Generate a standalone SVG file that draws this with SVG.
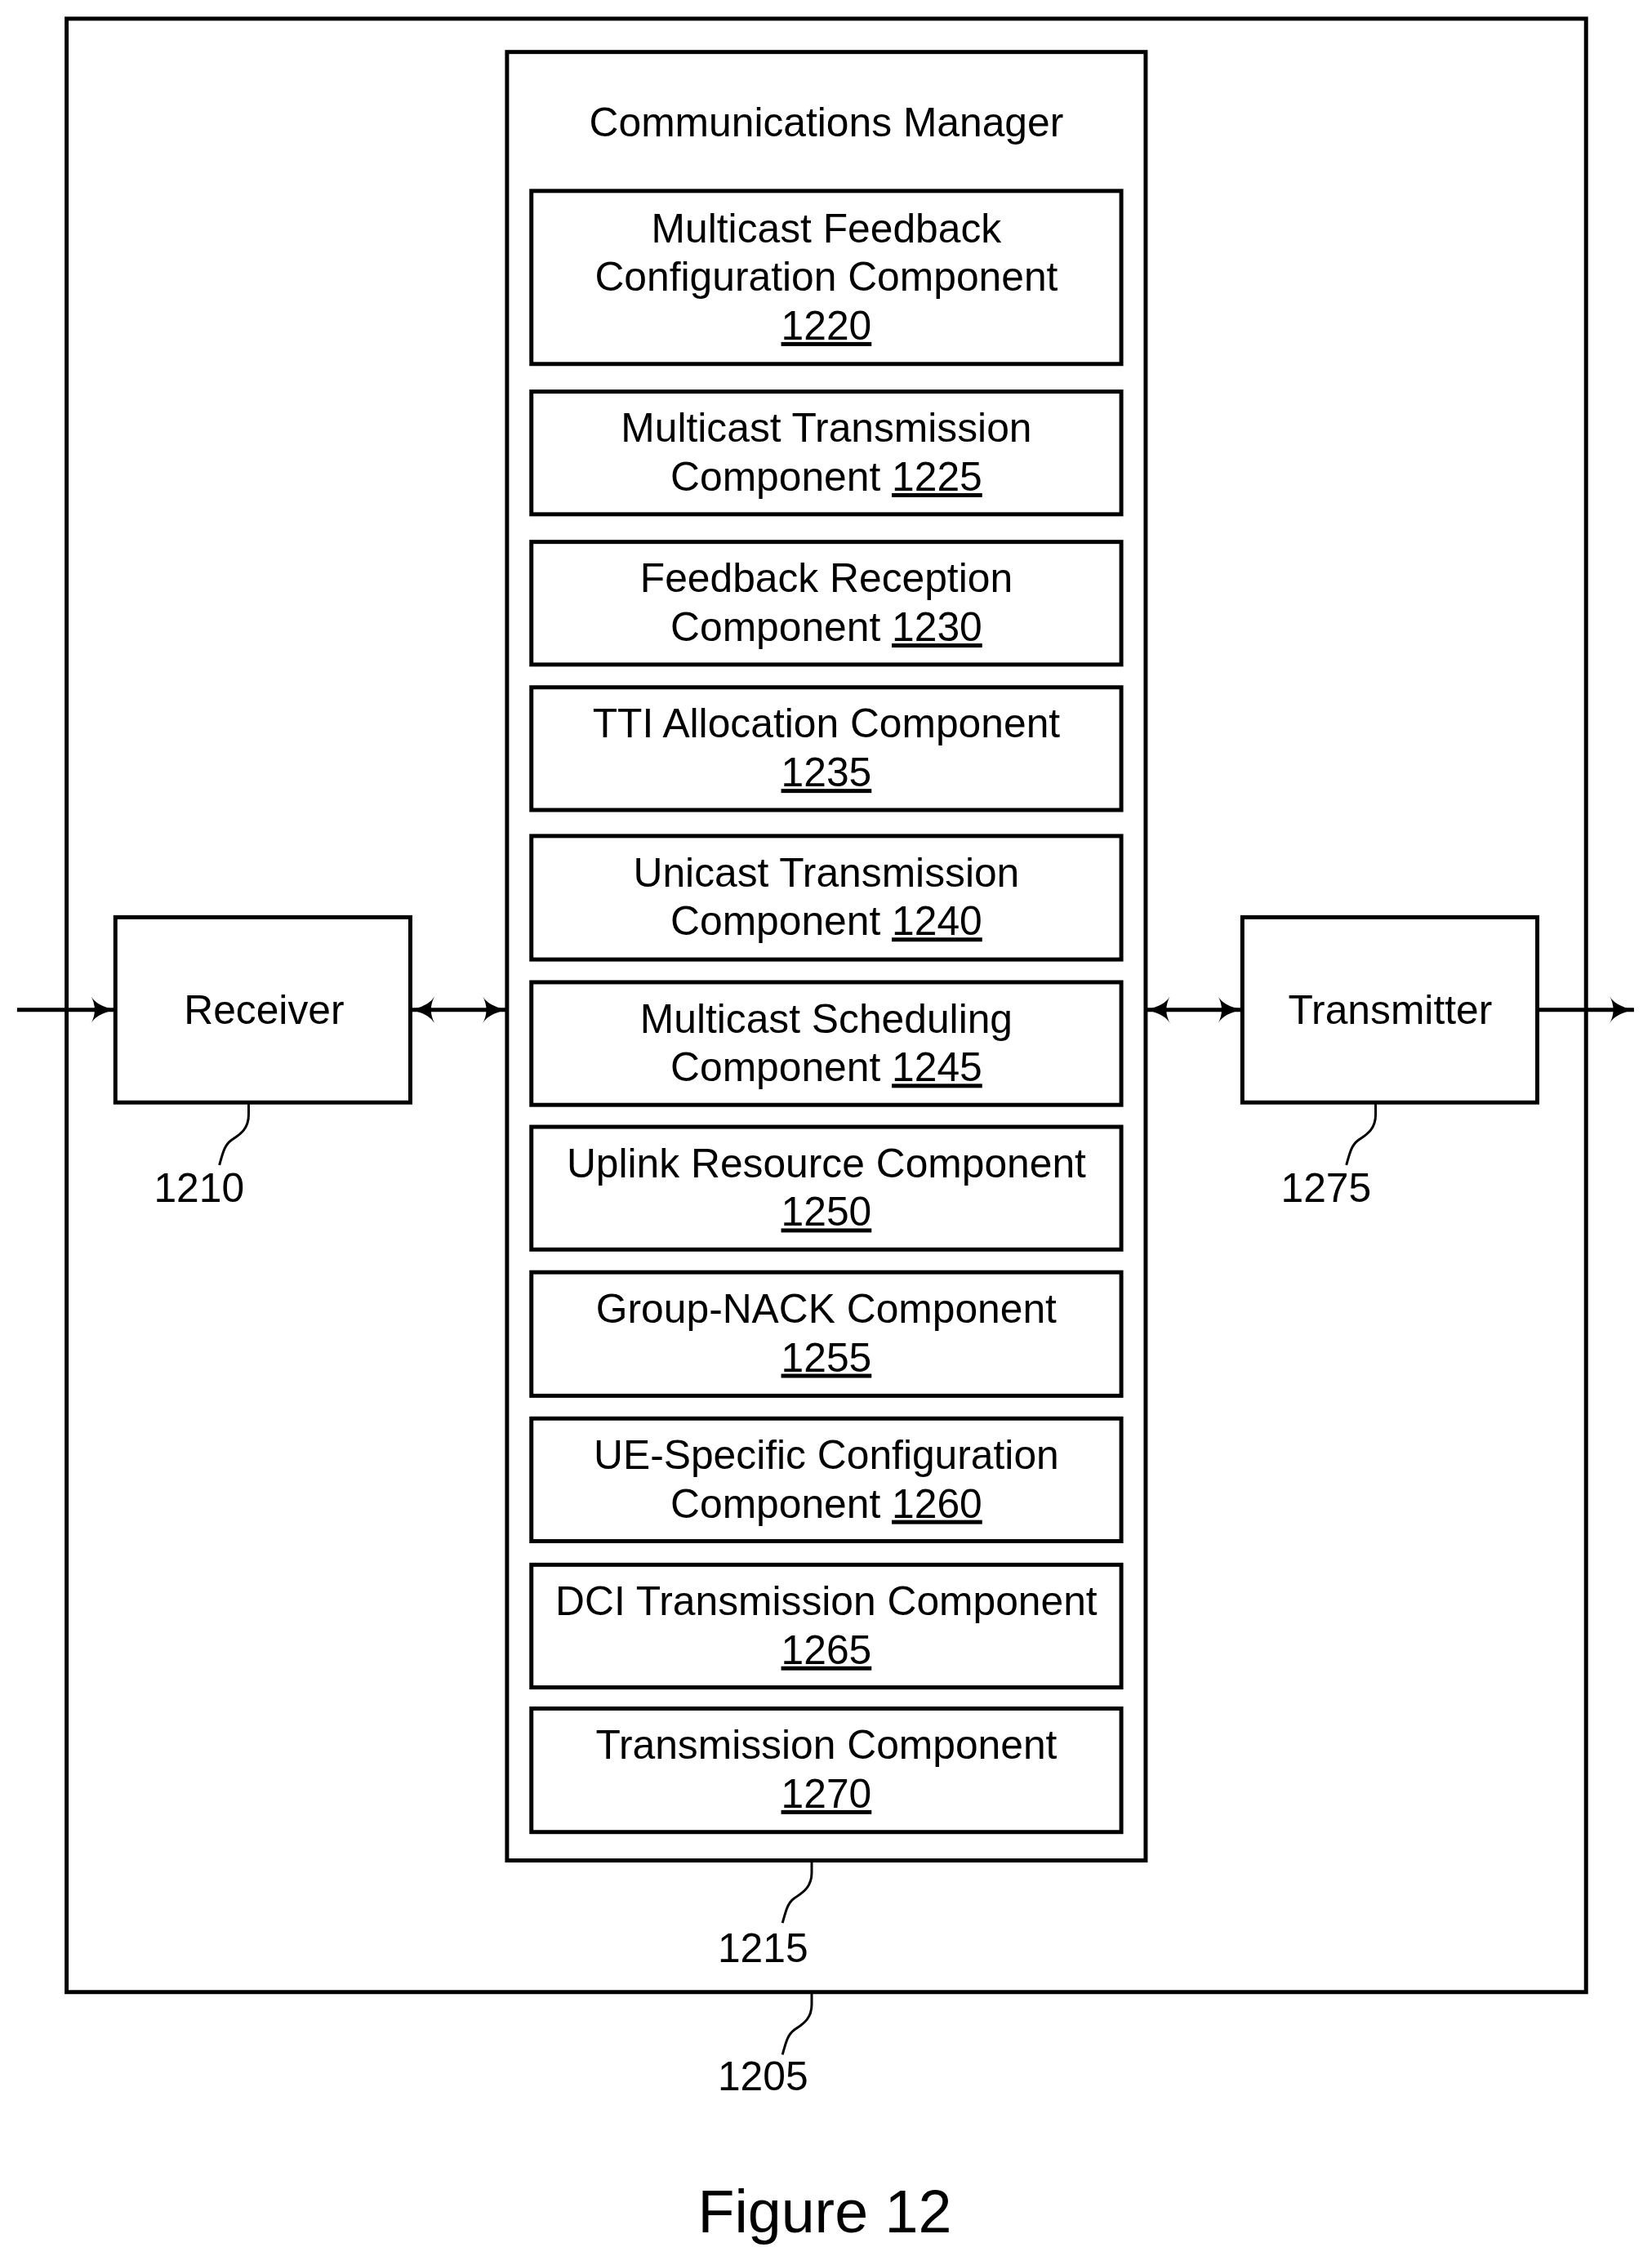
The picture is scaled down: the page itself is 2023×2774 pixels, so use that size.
<svg xmlns="http://www.w3.org/2000/svg" width="2023" height="2774" viewBox="0 0 2023 2774">
<defs>
<style>
text{font-family:"Liberation Sans",Arial,sans-serif;font-size:50px;fill:#000;text-anchor:middle}
.b{fill:#fff;stroke:#000;stroke-width:5}
.l{fill:none;stroke:#000;stroke-width:5}
.s{fill:none;stroke:#000;stroke-width:3}
.u{text-decoration:underline}
</style>
<marker id="ah" viewBox="0 0 30 34" refX="30" refY="17" markerWidth="30" markerHeight="34" markerUnits="userSpaceOnUse" orient="auto-start-reverse">
<path d="M0,0 Q6,12 30,17 Q6,22 0,34 Q9,17 0,0 Z" fill="#000"/>
</marker>
</defs>
<rect width="2023" height="2774" fill="#fff"/>
<g transform="scale(0.995)">
<g id="device1205"><rect class="b" x="82" y="23" width="1870" height="2429"/></g>
<g id="cm1215"><rect class="b" x="624" y="64" width="786" height="2226"/><text x="1017" y="168">Communications Manager</text></g>
<g id="c1220"><rect class="b" x="654" y="235" width="726" height="213"/><text x="1017" y="298">Multicast Feedback</text><text x="1017" y="358">Configuration Component</text><text x="1017" y="418" class="u">1220</text></g>
<g id="c1225"><rect class="b" x="654" y="482" width="726" height="151"/><text x="1017" y="544">Multicast Transmission</text><text x="1017" y="604">Component <tspan class="u">1225</tspan></text></g>
<g id="c1230"><rect class="b" x="654" y="667" width="726" height="151"/><text x="1017" y="729">Feedback Reception</text><text x="1017" y="789">Component <tspan class="u">1230</tspan></text></g>
<g id="c1235"><rect class="b" x="654" y="846" width="726" height="151"/><text x="1017" y="908">TTI Allocation Component</text><text x="1017" y="968" class="u">1235</text></g>
<g id="c1240"><rect class="b" x="654" y="1029" width="726" height="152"/><text x="1017" y="1091">Unicast Transmission</text><text x="1017" y="1151">Component <tspan class="u">1240</tspan></text></g>
<g id="c1245"><rect class="b" x="654" y="1209" width="726" height="151"/><text x="1017" y="1271">Multicast Scheduling</text><text x="1017" y="1331">Component <tspan class="u">1245</tspan></text></g>
<g id="c1250"><rect class="b" x="654" y="1387" width="726" height="151"/><text x="1017" y="1449">Uplink Resource Component</text><text x="1017" y="1509" class="u">1250</text></g>
<g id="c1255"><rect class="b" x="654" y="1566" width="726" height="152"/><text x="1017" y="1628">Group-NACK Component</text><text x="1017" y="1688" class="u">1255</text></g>
<g id="c1260"><rect class="b" x="654" y="1746" width="726" height="151"/><text x="1017" y="1808">UE-Specific Configuration</text><text x="1017" y="1868">Component <tspan class="u">1260</tspan></text></g>
<g id="c1265"><rect class="b" x="654" y="1926" width="726" height="151"/><text x="1017" y="1988">DCI Transmission Component</text><text x="1017" y="2048" class="u">1265</text></g>
<g id="c1270"><rect class="b" x="654" y="2103" width="726" height="152"/><text x="1017" y="2165">Transmission Component</text><text x="1017" y="2225" class="u">1270</text></g>
<g id="receiver1210"><rect class="b" x="142" y="1129" width="363" height="228"/><text x="325" y="1260">Receiver</text></g>
<g id="transmitter1275"><rect class="b" x="1529" y="1129" width="363" height="228"/><text x="1711" y="1260">Transmitter</text></g>
<g id="connectors">
<line class="l" x1="21" y1="1243" x2="142" y2="1243" marker-end="url(#ah)"/>
<line class="l" x1="505" y1="1243" x2="624" y2="1243" marker-start="url(#ah)" marker-end="url(#ah)"/>
<line class="l" x1="1410" y1="1243" x2="1529" y2="1243" marker-start="url(#ah)" marker-end="url(#ah)"/>
<line class="l" x1="1892" y1="1243" x2="2011" y2="1243" marker-end="url(#ah)"/>
<path class="s" d="M306,1357 V1372 C306,1392 292,1398 284,1404 C276,1410 274,1420 270,1434"/>
<path class="s" d="M1693,1357 V1372 C1693,1392 1679,1398 1671,1404 C1663,1410 1661,1420 1657,1434"/>
<path class="s" d="M999,2290 V2305 C999,2325 985,2331 977,2337 C969,2343 967,2353 963,2367"/>
<path class="s" d="M999,2452 V2467 C999,2487 985,2493 977,2499 C969,2505 967,2515 963,2529"/>
</g>
<g id="labels">
<text x="245" y="1479">1210</text>
<text x="1632" y="1479">1275</text>
<text x="939" y="2415">1215</text>
<text x="939" y="2573">1205</text>
<text x="1015" y="2748" style="font-size:74px">Figure 12</text>
</g>
</g>
</svg>
